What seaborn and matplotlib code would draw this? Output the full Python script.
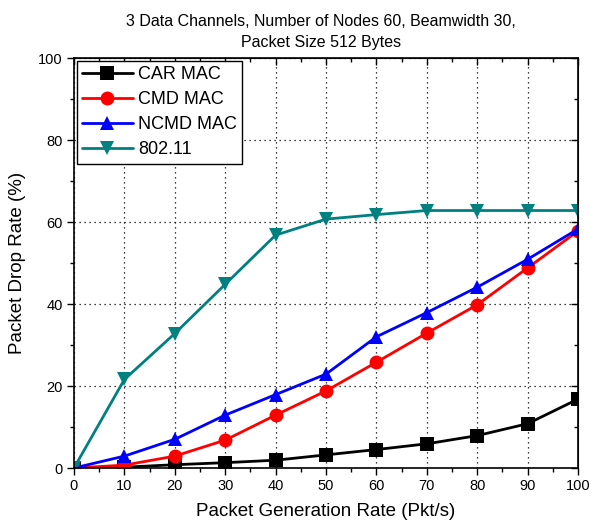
import matplotlib
matplotlib.use("Agg")
import matplotlib.pyplot as plt
import seaborn as sns
import pandas as pd
from matplotlib.ticker import MultipleLocator

rate = [0, 10, 20, 30, 40, 50, 60, 70, 80, 90, 100]
car_mac = [0, 0.2, 0.8, 1.3, 1.9, 3.2, 4.5, 5.9, 7.9, 10.8, 16.8]
cmd_mac = [0, 0.7, 2.9, 6.8, 12.9, 18.8, 25.8, 32.9, 39.8, 48.8, 57.8]
ncmd_mac = [0, 2.9, 7.0, 12.9, 17.9, 22.9, 32.0, 37.9, 44.1, 50.9, 58.3]
ieee80211 = [0, 21.6, 32.8, 44.8, 56.8, 60.7, 61.8, 62.8, 62.8, 62.8, 62.8]

series = ["CAR MAC", "CMD MAC", "NCMD MAC", "802.11"]
colors = ["#000000", "#ff0000", "#0000ff", "#008080"]
markers = ["s", "o", "^", "v"]

df = pd.DataFrame({"rate": rate * 4,
                   "drop": car_mac + cmd_mac + ncmd_mac + ieee80211,
                   "series": [s for s in series for _ in rate]})

sns.set_style("white")
plt.rcParams["font.family"] = ["Liberation Sans", "DejaVu Sans"]
plt.rcParams["text.color"] = "black"
plt.rcParams["axes.labelcolor"] = "black"
plt.rcParams["xtick.color"] = "black"
plt.rcParams["ytick.color"] = "black"

fig = plt.figure(figsize=(5.91, 5.29), dpi=100)
ax = fig.add_axes([74 / 591, 1 - 468 / 529, 504 / 591, 410 / 529])

sns.lineplot(data=df, x="rate", y="drop", hue="series", style="series",
             hue_order=series, style_order=series,
             palette=colors, markers=markers, dashes=False,
             markersize=10, linewidth=2, markeredgewidth=0, ax=ax)

ax.set_xlim(0, 100)
ax.set_ylim(0, 100)
ax.xaxis.set_major_locator(MultipleLocator(10))
ax.xaxis.set_minor_locator(MultipleLocator(5))
ax.yaxis.set_major_locator(MultipleLocator(20))
ax.yaxis.set_minor_locator(MultipleLocator(10))
ax.tick_params(which="both", direction="out", bottom=True, left=True,
               top=False, right=False, labelsize=10.5, pad=3,
               color="black", labelcolor="black")
ax.tick_params(which="major", length=5, width=1)
ax.tick_params(which="minor", length=3, width=1)
# mirrored ticks on top/right pointing inward
axt = ax.secondary_xaxis("top")
axt.xaxis.set_major_locator(MultipleLocator(10))
axt.xaxis.set_minor_locator(MultipleLocator(5))
axt.tick_params(which="both", direction="in", top=True, labeltop=False, color="black")
axt.tick_params(which="major", length=5, width=1)
axt.tick_params(which="minor", length=3, width=1)
axr = ax.secondary_yaxis("right")
axr.yaxis.set_major_locator(MultipleLocator(20))
axr.yaxis.set_minor_locator(MultipleLocator(10))
axr.tick_params(which="both", direction="in", right=True, labelright=False, color="black")
axr.tick_params(which="major", length=5, width=1)
axr.tick_params(which="minor", length=3, width=1)

ax.grid(True, which="major", linestyle=(0, (1, 3)), color="black", linewidth=0.9)
for sp in ax.spines.values():
    sp.set_linewidth(1.2)
    sp.set_color("black")

ax.set_xlabel("Packet Generation Rate (Pkt/s)", fontsize=13.5, labelpad=7, color="black")
ax.set_ylabel("Packet Drop Rate (%)", fontsize=13.5, labelpad=9, color="black")
ax.set_title("3 Data Channels, Number of Nodes 60, Beamwidth 30,\nPacket Size 512 Bytes",
             fontsize=11.5, x=0.49, pad=8, linespacing=1.5, color="black")

leg = ax.legend(loc="upper left", fontsize=13, frameon=True, fancybox=False,
                borderaxespad=0.15, handlelength=2.8, labelspacing=0.45,
                borderpad=0.3, handletextpad=0.3)
leg.get_frame().set_edgecolor("black")
leg.get_frame().set_linewidth(1)
leg.get_frame().set_alpha(1)
for t in leg.get_texts():
    t.set_color("black")

fig.savefig("out.png", dpi=100)
